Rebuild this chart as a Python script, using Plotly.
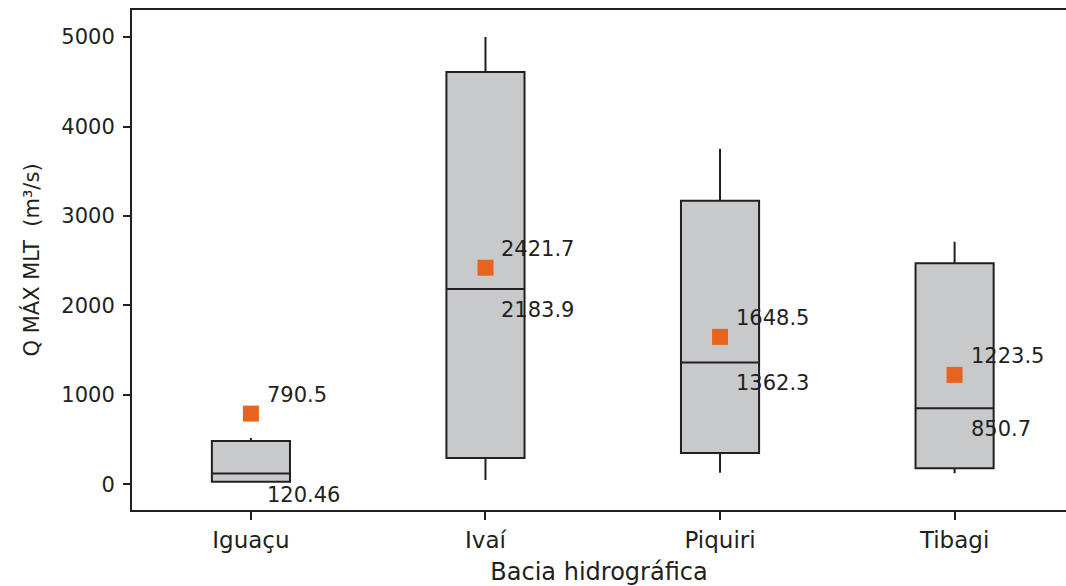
import plotly.graph_objects as go

categories = ["Iguaçu", "Ivaí", "Piquiri", "Tibagi"]
lower_whisker = [18, 48, 130, 123]
q1_values = [29, 294, 350, 179]
median_values = [120.46, 2183.9, 1362.3, 850.7]
q3_values = [484, 4609, 3170, 2471]
upper_whisker = [518, 5000, 3751, 2712]
mean_values = [790.5, 2421.7, 1648.5, 1223.5]
mean_labels = ["790.5", "2421.7", "1648.5", "1223.5"]
median_labels = ["120.46", "2183.9", "1362.3", "850.7"]

ink = "#231f20"
font_family = "DejaVu Sans"

fig = go.Figure()
fig.add_trace(go.Box(
    x=categories,
    q1=q1_values,
    median=median_values,
    q3=q3_values,
    lowerfence=lower_whisker,
    upperfence=upper_whisker,
    width=0.333,
    whiskerwidth=0,
    fillcolor="#c8c9cb",
    line=dict(color=ink, width=2),
    boxpoints=False,
    showlegend=False,
    hoverinfo="skip",
))
fig.add_trace(go.Scatter(
    x=categories,
    y=mean_values,
    mode="markers",
    marker=dict(symbol="square", size=16, color="#e8641e", line=dict(width=0)),
    showlegend=False,
    hoverinfo="skip",
))

annotations = []
for c, m, ml in zip(categories, mean_values, mean_labels):
    annotations.append(dict(x=c, y=m, text=ml, showarrow=False, xanchor="left", yanchor="middle",
                            xshift=14, yshift=19, font=dict(family=font_family, size=21, color=ink)))
for c, md, mdl in zip(categories, median_values, median_labels):
    annotations.append(dict(x=c, y=md, text=mdl, showarrow=False, xanchor="left", yanchor="middle",
                            xshift=14, yshift=-21, font=dict(family=font_family, size=21, color=ink)))

fig.update_layout(
    width=1066,
    height=586,
    margin=dict(l=132, r=0, t=10, b=76),
    paper_bgcolor="white",
    plot_bgcolor="white",
    annotations=annotations,
    font=dict(family=font_family, color=ink),
)
fig.update_xaxes(
    type="category",
    range=[-0.507, 3.475],
    showline=True, linecolor=ink, linewidth=2, mirror=True,
    ticks="outside", ticklen=8, tickwidth=2, tickcolor=ink,
    showgrid=False, zeroline=False,
    tickfont=dict(family=font_family, size=23, color=ink),
    title=dict(text="Bacia hidrográfica", font=dict(family=font_family, size=24, color=ink), standoff=13),
)
fig.update_yaxes(
    range=[-287, 5303],
    tickvals=[0, 1000, 2000, 3000, 4000, 5000],
    showline=True, linecolor=ink, linewidth=2, mirror=False,
    ticks="outside", ticklen=7, tickwidth=2, tickcolor=ink,
    showgrid=False, zeroline=False,
    tickfont=dict(family=font_family, size=21, color=ink),
    ticklabelstandoff=4,
    title=dict(text="Q MÁX MLT  (m³/s)", font=dict(family=font_family, size=21, color=ink), standoff=16),
)

fig.write_html("out.html", config={"displayModeBar": False},
               post_script="document.body.style.margin='0';document.body.style.overflow='hidden';")
